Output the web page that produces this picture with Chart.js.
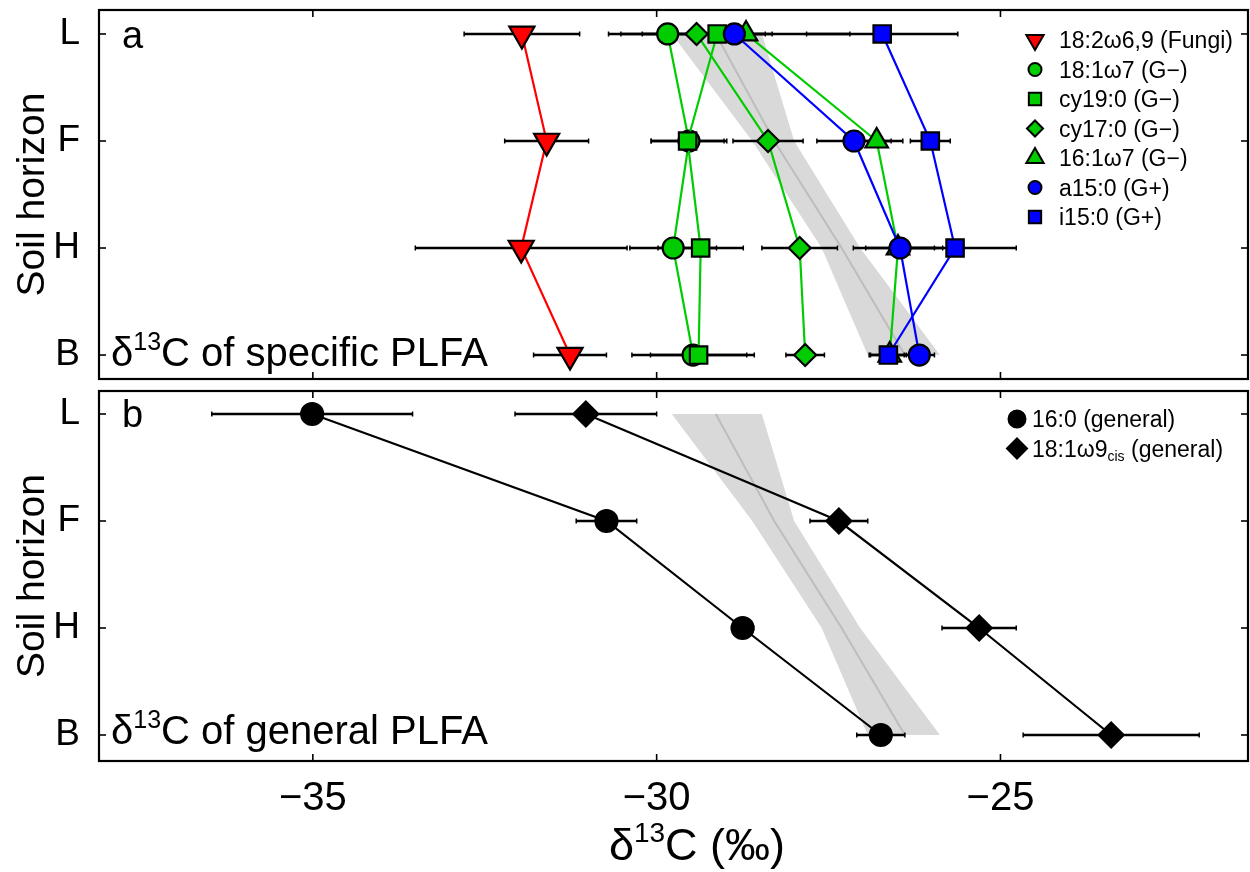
<!DOCTYPE html>
<html>
<head>
<meta charset="utf-8">
<script src="https://cdn.jsdelivr.net/npm/chart.js@4.4.1/dist/chart.umd.min.js"></script>
<style>
  html, body { margin: 0; padding: 0; background: #fff; }
  #wrap { position: relative; width: 1250px; height: 872px; }
  #ca { position: absolute; left: 0; top: 0; }
  #cb { position: absolute; left: 0; top: 385px; }
</style>
</head>
<body>
<div id="wrap">
  <canvas id="ca" width="1250" height="385"></canvas>
  <canvas id="cb" width="1250" height="487"></canvas>
</div>
<script>
// soil horizons (top to bottom) and x ticks
const horizons = ['L', 'F', 'H', 'B'];
const xTicks = [-35, -30, -25];

// panel a: specific PLFA (mean and +/- error, per horizon)
const fungi = [-31.96, -31.60, -31.97, -31.26];
const fungiErr = [0.84, 0.61, 1.54, 0.53];
const c181w7 = [-29.84, -29.53, -29.76, -29.47];
const c181w7Err = [0.86, 0.55, 0.63, 0.89];
const cy190 = [-29.12, -29.55, -29.36, -29.39];
const cy190Err = [0.35, 0.53, 0.62, 0.70];
const cy170 = [-29.42, -28.38, -27.92, -27.84];
const cy170Err = [1.10, 0.51, 0.55, 0.28];
const c161w7 = [-28.70, -26.80, -26.49, -26.61];
const c161w7Err = [1.51, 0.38, 0.65, 0.30];
const a150 = [-28.87, -27.13, -26.46, -26.18];
const a150Err = [0.45, 0.54, 0.50, 0.22];
const i150 = [-26.72, -26.02, -25.66, -26.63];
const i150Err = [1.10, 0.29, 0.89, 0.26];

// panel b: general PLFA
const c160 = [-35.01, -30.73, -28.75, -26.74];
const c160Err = [1.46, 0.44, 0.16, 0.35];
const c181w9 = [-31.03, -27.35, -25.31, -23.39];
const c181w9Err = [1.03, 0.42, 0.54, 1.28];

// bulk soil band (grey)
const bulkMean = [-29.14, -28.29, -27.31, -26.39];
const bulkLo = [-29.78, -28.61, -27.60, -26.93];
const bulkHi = [-28.47, -28.00, -27.04, -25.88];

const FONT = "'Liberation Sans', Arial, Helvetica, sans-serif";
Chart.defaults.font.family = FONT;
Chart.defaults.color = '#000';

const RED = '#ff0000', GREEN = '#00cc00', BLUE = '#0000ff', BLACK = '#000000';

function pts(vals) { return vals.map((v, i) => ({ x: v, y: i })); }

function series(label, vals, errs, color, style, r, rot, order, legR) {
  return {
    label: label, data: pts(vals), errs: errs, legR: legR,
    borderColor: color, borderWidth: 2.2, backgroundColor: color,
    pointBackgroundColor: color, pointBorderColor: '#000', pointBorderWidth: 2.2,
    pointStyle: style, pointRadius: r, pointHoverRadius: r, pointRotation: rot || 0,
    fill: false, tension: 0, order: order
  };
}

function bandSets() {
  return [
    { label: '_lo', data: pts(bulkLo), borderWidth: 0, pointRadius: 0, fill: false, order: 100 },
    { label: '_hi', data: pts(bulkHi), borderWidth: 0, pointRadius: 0, fill: '-1',
      backgroundColor: '#d9d9d9', order: 100 },
    { label: '_mean', data: pts(bulkMean), borderColor: '#bdbdbd', borderWidth: 2,
      pointRadius: 0, fill: false, order: 99 }
  ];
}

// text with ^{sup} and _{sub}
function richParts(str) {
  const parts = []; const re = /([_^])\{([^}]*)\}/g; let last = 0, m;
  while ((m = re.exec(str))) {
    if (m.index > last) parts.push({ t: str.slice(last, m.index), k: '' });
    parts.push({ t: m[2], k: m[1] }); last = re.lastIndex;
  }
  if (last < str.length) parts.push({ t: str.slice(last), k: '' });
  return parts;
}
function drawRich(ctx, str, x, y, size, fam, align) {
  const parts = richParts(str); const small = Math.round(size * 0.62);
  let w = 0;
  parts.forEach(p => { ctx.font = (p.k ? small : size) + 'px ' + fam; p.w = ctx.measureText(p.t).width; w += p.w; });
  let cx = align === 'center' ? x - w / 2 : x;
  ctx.textAlign = 'left'; ctx.textBaseline = 'alphabetic'; ctx.fillStyle = '#000';
  parts.forEach(p => {
    ctx.font = (p.k ? small : size) + 'px ' + fam;
    const dy = p.k === '^' ? -size * 0.40 : (p.k === '_' ? size * 0.20 : 0);
    ctx.fillText(p.t, cx, y + dy); cx += p.w;
  });
}

function mark(ctx, style, x, y, r, rot) {
  ctx.beginPath();
  if (style === 'circle') {
    ctx.arc(x, y, r, 0, Math.PI * 2);
  } else if (style === 'rect') {
    const s = r * Math.SQRT1_2; ctx.rect(x - s, y - s, 2 * s, 2 * s);
  } else if (style === 'rectRot') {
    ctx.moveTo(x - r, y); ctx.lineTo(x, y - r); ctx.lineTo(x + r, y); ctx.lineTo(x, y + r); ctx.closePath();
  } else if (style === 'triangle') {
    let a = (rot || 0) * Math.PI / 180;
    ctx.moveTo(x + Math.sin(a) * r, y - Math.cos(a) * r);
    a += 2 * Math.PI / 3; ctx.lineTo(x + Math.sin(a) * r, y - Math.cos(a) * r);
    a += 2 * Math.PI / 3; ctx.lineTo(x + Math.sin(a) * r, y - Math.cos(a) * r);
    ctx.closePath();
  }
  ctx.fill(); ctx.stroke();
}

// error bars go right after the grey band
const errorBars = {
  id: 'errorBars',
  afterDatasetDraw(chart, args) {
    if (chart.data.datasets[args.index].label !== '_mean') return;
    const { ctx, scales: { x, y } } = chart;
    ctx.save();
    ctx.strokeStyle = '#000';
    chart.data.datasets.forEach(ds => {
      if (!ds.errs) return;
      ds.data.forEach((p, i) => {
        const xl = x.getPixelForValue(p.x - ds.errs[i]);
        const xr = x.getPixelForValue(p.x + ds.errs[i]);
        const py = y.getPixelForValue(p.y);
        ctx.lineWidth = 2.4;
        ctx.beginPath(); ctx.moveTo(xl, py); ctx.lineTo(xr, py); ctx.stroke();
        ctx.lineWidth = 1.5;
        ctx.beginPath(); ctx.moveTo(xl, py - 2.5); ctx.lineTo(xl, py + 2.5);
        ctx.moveTo(xr, py - 2.5); ctx.lineTo(xr, py + 2.5); ctx.stroke();
      });
    });
    ctx.restore();
  }
};

// frame, inward ticks, panel letter, caption, legend
const deco = {
  id: 'deco',
  afterDraw(chart, args, o) {
    const { ctx, chartArea: a, scales: { x, y } } = chart;
    ctx.save();
    ctx.strokeStyle = '#000'; ctx.lineWidth = 1.6;
    const seg = (x1, y1, x2, y2) => { ctx.beginPath(); ctx.moveTo(x1, y1); ctx.lineTo(x2, y2); ctx.stroke(); };
    xTicks.forEach(v => {
      const px = x.getPixelForValue(v);
      seg(px, a.top, px, a.top + 7); seg(px, a.bottom, px, a.bottom - 7);
    });
    horizons.forEach((h, i) => {
      const py = y.getPixelForValue(i);
      seg(a.left, py, a.left + 7, py); seg(a.right, py, a.right - 7, py);
    });
    ctx.lineWidth = 2.2;
    ctx.strokeRect(a.left, a.top, a.right - a.left, a.bottom - a.top);

    ctx.fillStyle = '#000';
    ctx.font = '38px ' + FONT; ctx.textAlign = 'left'; ctx.textBaseline = 'alphabetic';
    ctx.fillText(o.letter, a.left + 23, a.top + o.letterDy);
    drawRich(ctx, o.caption, a.left + 12, a.bottom - o.capDy, 40, FONT, 'left');

    // legend
    const sets = chart.data.datasets.filter(d => d.errs);
    sets.forEach((d, i) => {
      const ly = o.legY + i * o.legStep;
      ctx.fillStyle = d.pointBackgroundColor; ctx.strokeStyle = '#000'; ctx.lineWidth = 2;
      mark(ctx, d.pointStyle, o.legX, ly, d.legR, d.pointRotation);
      drawRich(ctx, d.label, o.legX + o.legGap, ly + 8, 23, FONT, 'left');
    });
    if (o.xTitle) {
      drawRich(ctx, o.xTitle, o.xTitleX, o.xTitleY, 45, FONT, 'center');
    }
    ctx.restore();
  }
};

function yScale(min, max) {
  return {
    type: 'linear', reverse: true, min: min, max: max,
    afterBuildTicks: s => { s.ticks = horizons.map((h, i) => ({ value: i })); },
    afterFit: s => { s.width = 99; s.paddingTop = 0; s.paddingBottom = 0; },
    grid: { display: false }, border: { display: false },
    ticks: { padding: 11, color: '#000', font: { size: 37, family: FONT }, callback: v => horizons[v] },
    title: { display: true, text: 'Soil horizon', color: '#000', font: { size: 39, family: FONT }, padding: { top: 10, bottom: 0 } }
  };
}

const XMIN = -38.11, XMAX = -21.40;

new Chart(document.getElementById('ca'), {
  type: 'line',
  data: {
    datasets: [
      ...bandSets(),
      series('18:2ω6,9 (Fungi)', fungi, fungiErr, RED, 'triangle', 14.5, 180, 20, 10),
      series('18:1ω7 (G\u2212)', c181w7, c181w7Err, GREEN, 'circle', 10.5, 0, 19, 6.5),
      series('cy19:0 (G\u2212)', cy190, cy190Err, GREEN, 'rect', 12.3, 0, 18, 8.7),
      series('cy17:0 (G\u2212)', cy170, cy170Err, GREEN, 'rectRot', 11, 0, 17, 8),
      series('16:1ω7 (G\u2212)', c161w7, c161w7Err, GREEN, 'triangle', 13, 0, 16, 10),
      series('a15:0 (G+)', a150, a150Err, BLUE, 'circle', 10.5, 0, 15, 6.5),
      series('i15:0 (G+)', i150, i150Err, BLUE, 'rect', 12.3, 0, 14, 8.7)
    ]
  },
  options: {
    responsive: false, animation: false, events: [], indexAxis: 'y',
    layout: { autoPadding: false, padding: { left: 0, right: 2, top: 10, bottom: 6 } },
    plugins: {
      legend: { display: false }, tooltip: { enabled: false },
      deco: { letter: 'a', letterDy: 38, caption: 'δ^{13}C of specific PLFA', capDy: 13,
              legX: 1035, legY: 40, legStep: 29.5, legGap: 24 }
    },
    scales: {
      x: { type: 'linear', min: XMIN, max: XMAX, display: false },
      y: yScale(-0.224, 3.224)
    }
  },
  plugins: [errorBars, deco]
});

new Chart(document.getElementById('cb'), {
  type: 'line',
  data: {
    datasets: [
      ...bandSets(),
      series('16:0 (general)', c160, c160Err, BLACK, 'circle', 11, 0, 20, 8.5),
      series('18:1ω9_{cis} (general)', c181w9, c181w9Err, BLACK, 'rectRot', 12.5, 0, 19, 10)
    ]
  },
  options: {
    responsive: false, animation: false, events: [], indexAxis: 'y',
    layout: { autoPadding: false, padding: { left: 0, right: 2, top: 6, bottom: 0 } },
    plugins: {
      legend: { display: false }, tooltip: { enabled: false },
      deco: { letter: 'b', letterDy: 36, caption: 'δ^{13}C of general PLFA', capDy: 17,
              legX: 1017, legY: 34, legStep: 29.5, legGap: 15,
              xTitle: 'δ^{13}C (‰)', xTitleX: 697, xTitleY: 475 }
    },
    scales: {
      x: {
        type: 'linear', min: XMIN, max: XMAX,
        afterBuildTicks: s => { s.ticks = xTicks.map(v => ({ value: v })); },
        afterFit: s => { s.height = 111; s.paddingLeft = 0; s.paddingRight = 0; },
        grid: { display: false }, border: { display: false },
        ticks: { padding: 6, color: '#000', maxRotation: 0, autoSkip: false,
                 font: { size: 40, family: FONT }, callback: v => '\u2212' + Math.abs(v) }
      },
      y: yScale(-0.215, 3.243)
    }
  },
  plugins: [errorBars, deco]
});
</script>
</body>
</html>
